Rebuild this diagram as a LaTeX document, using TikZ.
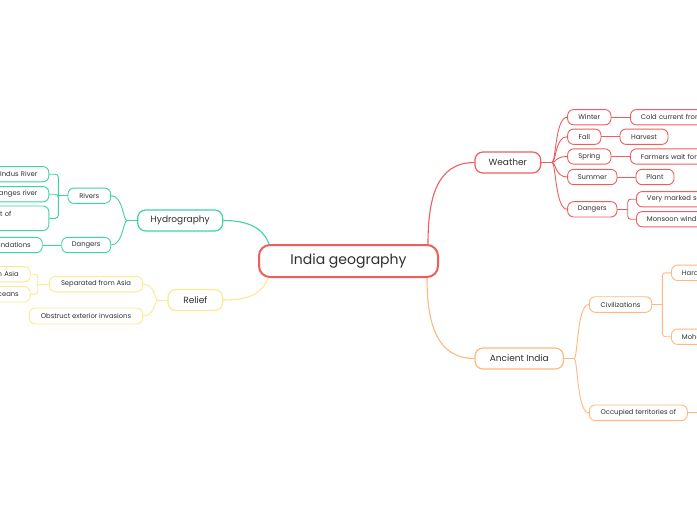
\documentclass[tikz,border=0pt]{standalone}
\usepackage{fontspec}
\setmainfont{Poppins}
\usetikzlibrary{calc}
\definecolor{cred}{HTML}{F15D5D}
\definecolor{cteal}{HTML}{3ED3A5}
\definecolor{cyel}{HTML}{F8EC8E}
\definecolor{corg}{HTML}{FFB87D}
\definecolor{txt}{HTML}{303030}
\pgfdeclarelayer{bg}
\pgfsetlayers{bg,main}
\tikzset{
  root/.style={draw=cred, line width=2pt, rounded corners=11pt, minimum width=179pt, minimum height=32pt, inner sep=0pt, font=\fontsize{14}{16}\selectfont, text=txt, fill=white},
  topic/.style={draw=#1, line width=1.2pt, rounded corners=8pt, inner sep=0pt, minimum height=21pt, font=\fontsize{9}{11}\selectfont, text=txt, fill=white},
  sub/.style={draw=#1, line width=0.9pt, rounded corners=6pt, inner sep=0pt, minimum height=15.3pt, font=\fontsize{6.8}{8}\selectfont, text=txt, fill=white},
  lnk/.style={draw=#1, line width=1.1pt},
  slnk/.style={draw=#1, line width=0.9pt},
  edgeL/.style={anchor=east, minimum width=100pt, text width=77pt, align=right},
  edgeR/.style={anchor=west, minimum width=100pt, text width=79pt, align=left}
}
\begin{document}
\begin{tikzpicture}[x=1pt,y=-1pt]
\begin{pgfonlayer}{bg}
\path[use as bounding box, fill=white] (0,0) rectangle (697,520);
\end{pgfonlayer}
\clip (0,0) rectangle (697,520);

% root
\node[root] (central) at (348.5,261) {India geography};

% level 1
\node[topic=cred, minimum width=65.7pt] (weather) at (507.8,162.5) {Weather};
\node[topic=cteal, minimum width=85pt] (hydro) at (180.2,220.5) {Hydrography};
\node[topic=cyel, minimum width=54.7pt] (relief) at (195.3,300) {Relief};
\node[topic=corg, minimum width=88.3pt] (ancient) at (519.2,358.5) {Ancient India};

% weather children
\node[sub=cred, minimum width=43.3pt] (winter) at (589.3,117.2) {Winter};
\node[sub=cred, minimum width=33.3pt] (fall) at (584.3,136.7) {Fall};
\node[sub=cred, minimum width=43.3pt] (spring) at (589.3,156.5) {Spring};
\node[sub=cred, minimum width=49.3pt] (summer) at (592.3,177) {Summer};
\node[sub=cred, minimum width=49.3pt] (wdang) at (592.3,209.3) {Dangers};
\node[sub=cred, edgeR] (cold) at (630,117.2) {Cold current from};
\node[sub=cred, minimum width=48pt] (harvest) at (644,136.7) {Harvest};
\node[sub=cred, edgeR] (farmers) at (630,156.5) {Farmers wait for};
\node[sub=cred, minimum width=38pt] (plant) at (655,177) {Plant};
\node[sub=cred, edgeR] (marked) at (636,199.2) {Very marked se};
\node[sub=cred, edgeR] (monsoon) at (636,219.2) {Monsoon winds};

% hydrography children
\node[sub=cteal, minimum width=42.7pt] (rivers) at (89.3,195.7) {Rivers};
\node[sub=cteal, minimum width=49pt] (hdang) at (86.2,245) {Dangers};
\node[sub=cteal, edgeL] (indus) at (49.3,174.2) {Indus River};
\node[sub=cteal, edgeL] (ganges) at (49.3,194.2) {anges river};
\node[sub=cteal, edgeL, minimum height=24.7pt] (partof) at (49.3,218.3) {t of\rule{26pt}{0pt}\\~};
\node[sub=cteal, edgeL] (inund) at (42.7,245) {undations};

% relief children
\node[sub=cyel, minimum width=93.3pt] (sep) at (96,284.2) {Separated from Asia};
\node[sub=cyel, minimum width=113.3pt, minimum height=16pt] (obst) at (86,316) {Obstruct exterior invasions};
\node[sub=cyel, edgeL] (asia) at (30.7,274.2) {h Asia};
\node[sub=cyel, edgeL] (oceans) at (30.7,294.3) {ceans};

% ancient children
\node[sub=corg, minimum width=62.4pt, minimum height=15.6pt] (civ) at (620.5,304.5) {Civilizations};
\node[sub=corg, minimum width=98pt, minimum height=15.7pt] (occ) at (638.3,412.8) {Occupied territories of};
\node[sub=corg, edgeR] (harappa) at (671,272.8) {Hara};
\node[sub=corg, edgeR] (mohenjo) at (671,336.7) {Mohe};

% branch coordinates
\coordinate (cw) at ($(central.north east)+(-11,0)$);
\coordinate (ca) at ($(central.south east)+(-12,0)$);
\coordinate (ch) at ($(central.north west)+(11,0)$);
\coordinate (cr) at ($(central.south west)+(10,0)$);
\coordinate (wb) at (552,162.5);
\coordinate (db) at (627.7,209.3);
\coordinate (hb) at (127,220.5);
\coordinate (rb) at (58.3,195.7);
\coordinate (relb) at (158.3,300);
\coordinate (sb) at (37.7,284.2);
\coordinate (ab) at (574,358.5);
\coordinate (cb) at (662.3,304.5);
\coordinate (occend) at (710,412.8);

\begin{pgfonlayer}{bg}
% root connectors
\draw[lnk=cred] (cw) .. controls +(0,-45) and +(-38,0) .. (weather.west);
\draw[lnk=corg] (ca) .. controls +(0,45) and +(-38,0) .. (ancient.west);
\draw[lnk=cteal] (ch) .. controls +(-6,-16) and +(25,0) .. (hydro.east);
\draw[lnk=cyel] (cr) .. controls +(-6,16) and +(25,0) .. (relief.east);

% weather
\draw[slnk=cred] (weather.east) -- (wb);
\foreach \n in {winter,fall,spring,summer,wdang}
  \draw[slnk=cred] (wb) .. controls +(4,0) and +(-12,0) .. (\n.west);
\draw[slnk=cred] (winter.east) -- (cold.west);
\draw[slnk=cred] (fall.east) -- (harvest.west);
\draw[slnk=cred] (spring.east) -- (farmers.west);
\draw[slnk=cred] (summer.east) -- (plant.west);
\draw[slnk=cred] (wdang.east) -- (db);
\draw[slnk=cred, rounded corners=3pt] (db) |- (marked.west);
\draw[slnk=cred, rounded corners=3pt] (db) |- (monsoon.west);

% hydrography
\draw[slnk=cteal] (hydro.west) -- (hb);
\foreach \n in {rivers,hdang}
  \draw[slnk=cteal] (hb) .. controls +(-4,0) and +(12,0) .. (\n.east);
\draw[slnk=cteal] (rivers.west) -- (rb);
\draw[slnk=cteal, rounded corners=3pt] (rb) |- (indus.east);
\draw[slnk=cteal, rounded corners=3pt] (rb) |- (ganges.east);
\draw[slnk=cteal, rounded corners=3pt] (rb) |- (partof.east);
\draw[slnk=cteal] (hdang.west) -- (inund.east);

% relief
\draw[slnk=cyel] (relief.west) -- (relb);
\foreach \n in {sep,obst}
  \draw[slnk=cyel] (relb) .. controls +(-4,0) and +(12,0) .. (\n.east);
\draw[slnk=cyel] (sep.west) -- (sb);
\draw[slnk=cyel, rounded corners=3pt] (sb) |- (asia.east);
\draw[slnk=cyel, rounded corners=3pt] (sb) |- (oceans.east);

% ancient
\draw[slnk=corg] (ancient.east) -- (ab);
\foreach \n in {civ,occ}
  \draw[slnk=corg] (ab) .. controls +(4,0) and +(-12,0) .. (\n.west);
\draw[slnk=corg] (civ.east) -- (cb);
\draw[slnk=corg, rounded corners=3pt] (cb) |- (harappa.west);
\draw[slnk=corg, rounded corners=3pt] (cb) |- (mohenjo.west);
\draw[slnk=corg] (occ.east) -- (occend);
\end{pgfonlayer}
\end{tikzpicture}
\end{document}
